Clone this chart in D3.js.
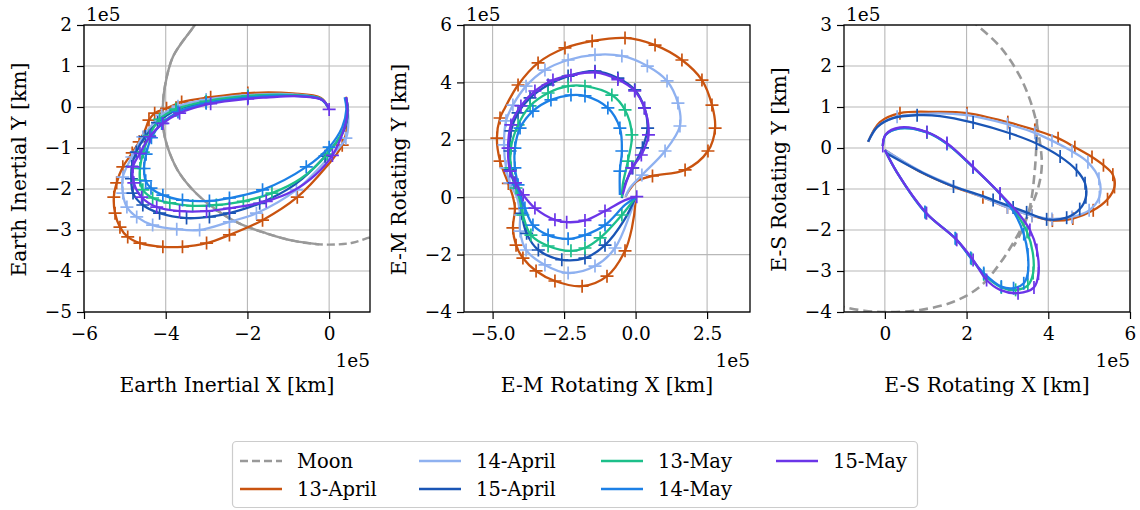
<!DOCTYPE html>
<html><head><meta charset="utf-8">
<script src="https://cdn.jsdelivr.net/npm/d3@7"></script>
<style>
body{margin:0;background:#fff}
svg{display:block}
svg text{font-family:"DejaVu Serif","Liberation Serif",serif !important;fill:#000}
</style>
</head><body>
<svg id="c" width="1140" height="510"></svg>
<script>
// ---------- data (units of 1e5 km); third value = 1 where a daily marker is drawn ----------
const seriesNames = ["13-April","14-April","15-April","13-May","14-May","15-May"];
const seriesColors = ["#c9530f","#8fb1f0","#1a55b5","#1cbf8a","#1c80e6","#6b35e8"];

// Earth Inertial frame
const moonEI = [[-3.05,2.4],[-3.29,2.0],[-3.82,1.23],[-4.02,0.5],[-4.07,0.01],[-4.04,-0.64],[-3.9,-1.13],[-3.66,-1.62],[-3.25,-2.11],[-2.76,-2.51],[-2.2,-2.84],[-1.54,-3.08],[-0.89,-3.26],[-0.24,-3.35],[0.24,-3.35],[0.57,-3.31],[0.93,-3.2],[1.2,-3.1]];
const moonEIOverlapEndX = 0.1;
const ei_13Apr = [[0.0,-0.05,0],[-0.2,0.22,0],[-0.89,0.33,0],[-1.99,0.34,1],[-2.9,0.24,1],[-3.61,0.12,1],[-3.98,-0.03,1],[-4.27,-0.15,1],[-4.41,-0.32,1],[-4.5,-0.55,0],[-4.65,-0.85,1],[-4.82,-1.12,1],[-5.05,-1.46,1],[-5.2,-1.85,1],[-5.27,-2.2,1],[-5.24,-2.59,1],[-5.12,-2.93,1],[-4.93,-3.17,1],[-4.63,-3.32,1],[-4.07,-3.41,1],[-3.59,-3.41,1],[-3.0,-3.32,1],[-2.44,-3.12,1],[-1.63,-2.76,1],[-0.78,-2.2,1],[-0.07,-1.46,0],[0.32,-0.93,1],[0.45,-0.4,0],[0.41,0.25,0]];
const ei_14Apr = [[0.0,-0.05,0],[-0.2,0.2,0],[-0.89,0.31,0],[-1.99,0.29,1],[-3.01,0.18,1],[-3.7,0.02,1],[-4.1,-0.2,1],[-4.56,-0.73,1],[-4.83,-1.22,1],[-5.05,-1.71,1],[-5.05,-2.1,1],[-4.95,-2.44,1],[-4.71,-2.68,1],[-4.32,-2.88,1],[-3.73,-2.98,1],[-3.17,-3.0,1],[-2.44,-2.8,1],[-1.78,-2.59,1],[-0.8,-2.02,1],[-0.07,-1.3,0],[0.41,-0.76,1],[0.47,-0.3,0],[0.41,0.22,0]];
const ei_15Apr = [[0.0,-0.05,0],[-0.2,0.19,0],[-0.89,0.28,0],[-1.99,0.25,1],[-3.01,0.11,1],[-3.75,-0.08,1],[-4.2,-0.38,1],[-4.5,-0.72,1],[-4.72,-1.1,1],[-4.83,-1.45,1],[-4.84,-1.75,1],[-4.8,-2.1,1],[-4.56,-2.39,1],[-4.15,-2.59,1],[-3.49,-2.71,1],[-2.93,-2.68,1],[-2.44,-2.59,1],[-1.7,-2.35,1],[-0.85,-1.9,0],[-0.1,-1.2,1],[0.35,-0.6,0],[0.46,-0.1,0],[0.41,0.23,0]];
const ei_13May = [[0.0,-0.05,0],[-0.2,0.2,0],[-0.89,0.29,0],[-1.99,0.27,1],[-3.01,0.14,1],[-3.75,-0.05,1],[-4.15,-0.3,1],[-4.4,-0.7,1],[-4.55,-1.1,1],[-4.63,-1.5,1],[-4.63,-1.78,1],[-4.56,-2.02,1],[-4.32,-2.22,1],[-3.9,-2.34,1],[-3.34,-2.41,1],[-2.76,-2.39,1],[-2.1,-2.3,1],[-1.4,-2.1,1],[-0.7,-1.75,0],[-0.05,-1.15,1],[0.35,-0.55,0],[0.46,-0.1,0],[0.41,0.23,0]];
const ei_14May = [[0.0,-0.05,0],[-0.2,0.19,0],[-0.89,0.27,0],[-1.99,0.23,1],[-3.01,0.09,1],[-3.7,-0.12,1],[-4.1,-0.4,1],[-4.35,-0.75,1],[-4.48,-1.15,1],[-4.53,-1.5,1],[-4.49,-1.8,1],[-4.36,-1.98,1],[-4.07,-2.15,1],[-3.59,-2.27,1],[-2.93,-2.29,1],[-2.44,-2.22,1],[-1.63,-2.02,1],[-0.56,-1.46,1],[0.0,-0.98,1],[0.32,-0.49,0],[0.42,-0.07,0],[0.38,0.24,0]];
const ei_15May = [[0.0,-0.06,1],[-0.16,0.17,0],[-0.73,0.26,0],[-1.54,0.23,0],[-1.99,0.2,1],[-2.9,0.08,1],[-3.66,-0.15,1],[-4.07,-0.4,1],[-4.39,-0.72,1],[-4.63,-1.13,1],[-4.8,-1.46,1],[-4.78,-1.85,1],[-4.59,-2.2,1],[-4.22,-2.44,1],[-3.66,-2.54,1],[-3.0,-2.54,1],[-2.44,-2.47,1],[-1.54,-2.3,1],[-0.89,-2.05,0],[-0.33,-1.65,0],[0.08,-1.18,1],[0.33,-0.64,0],[0.45,-0.15,0],[0.42,0.24,0]];

// Earth-Moon rotating frame
const em_13Apr = [[0.0,0.0,0],[0.0,-0.13,0],[-0.13,-1.07,0],[-0.37,-1.87,1],[-1.0,-2.75,1],[-1.87,-3.1,1],[-2.82,-2.92,1],[-3.48,-2.57,1],[-3.94,-2.12,1],[-4.18,-1.67,1],[-4.29,-1.07,1],[-4.22,-0.4,1],[-4.3,0.05,0],[-4.45,0.48,1],[-4.74,1.26,1],[-4.85,2.06,1],[-4.74,2.76,1],[-4.57,3.11,0],[-4.11,3.91,1],[-3.41,4.68,1],[-2.47,5.2,1],[-1.52,5.44,1],[-0.37,5.55,1],[0.68,5.3,1],[1.62,4.78,1],[2.32,4.08,1],[2.67,3.21,1],[2.78,2.41,1],[2.53,1.61,1],[1.73,0.95,1],[0.59,0.74,1],[0.07,0.57,0],[-0.24,0.22,0],[-0.35,0.02,0]];
const em_14Apr = [[0.0,0.0,0],[-0.2,-0.6,0],[-0.72,-1.77,1],[-1.42,-2.4,1],[-2.36,-2.64,1],[-3.17,-2.36,1],[-3.83,-1.84,1],[-4.04,-1.18,1],[-4.04,-0.62,1],[-4.15,0.0,0],[-4.4,0.5,1],[-4.53,1.02,1],[-4.6,1.82,1],[-4.53,2.66,1],[-4.29,3.21,1],[-3.83,3.87,1],[-3.17,4.43,1],[-2.36,4.78,1],[-1.42,4.96,1],[-0.48,4.92,1],[0.41,4.57,1],[1.1,4.05,1],[1.48,3.28,1],[1.55,2.48,1],[1.03,1.61,1],[0.22,0.77,1],[-0.2,0.32,0],[-0.35,0.02,0]];
const em_15Apr = [[0.0,0.0,0],[-0.4,-0.8,0],[-1.07,-1.67,1],[-1.77,-2.12,1],[-2.58,-2.18,1],[-3.4,-1.84,1],[-3.81,-1.26,1],[-3.98,-0.56,1],[-4.0,0.05,0],[-4.25,0.5,1],[-4.38,0.95,1],[-4.39,1.61,1],[-4.36,2.31,1],[-4.11,2.94,1],[-3.69,3.46,1],[-3.06,3.91,1],[-2.36,4.22,1],[-1.42,4.39,1],[-0.62,4.15,1],[-0.03,3.74,1],[0.31,3.11,1],[0.42,2.41,1],[0.24,1.72,1],[-0.1,1.02,1],[-0.38,0.43,0],[-0.48,-0.03,0]];
const em_13May = [[0.0,0.0,0],[-0.48,-0.62,1],[-1.24,-1.42,1],[-1.77,-1.77,1],[-2.26,-1.87,1],[-3.06,-1.7,1],[-3.66,-1.32,1],[-3.94,-0.62,1],[-4.05,-0.1,0],[-4.18,0.32,1],[-4.36,1.02,1],[-4.36,1.71,1],[-4.11,2.52,1],[-3.69,3.18,1],[-3.06,3.63,1],[-2.36,3.87,1],[-1.77,3.87,1],[-0.83,3.56,1],[-0.37,3.04,1],[-0.13,2.17,1],[-0.27,1.26,1],[-0.45,0.43,0],[-0.48,0.0,0]];
const em_14May = [[0.0,0.0,0],[-0.37,-0.27,0],[-1.07,-0.97,1],[-1.77,-1.32,1],[-2.36,-1.45,1],[-3.06,-1.32,1],[-3.59,-0.97,1],[-3.87,-0.38,1],[-4.05,0.1,0],[-4.11,0.43,1],[-4.22,1.02,1],[-4.22,1.71,1],[-4.04,2.41,1],[-3.59,3.0,1],[-2.96,3.39,1],[-2.26,3.56,1],[-1.77,3.53,1],[-0.97,3.11,1],[-0.55,2.41,1],[-0.48,1.61,1],[-0.55,0.91,1],[-0.55,0.08,0]];
const em_15May = [[0.04,0.02,1],[-0.37,-0.1,0],[-1.07,-0.48,1],[-1.77,-0.81,1],[-2.41,-0.87,1],[-2.82,-0.79,1],[-3.52,-0.38,1],[-3.93,0.08,1],[-4.2,0.5,1],[-4.39,0.91,1],[-4.46,1.71,1],[-4.36,2.52,1],[-4.01,3.18,1],[-3.52,3.7,1],[-2.89,4.08,1],[-2.26,4.25,1],[-1.42,4.35,1],[-0.62,4.1,1],[-0.03,3.7,1],[0.31,3.1,1],[0.45,2.17,1],[0.2,1.47,1],[-0.13,1.02,1],[-0.31,0.57,0],[-0.45,0.1,0]];

// Earth-Sun rotating frame
const moonES = [[-1.2,-3.83],[-1.0,-3.88],[-0.5,-3.97],[0.04,-4.0],[0.86,-3.95],[1.68,-3.75],[2.33,-3.38],[2.82,-2.81],[3.23,-2.16],[3.55,-1.51],[3.76,-0.94],[3.84,-0.46],[3.8,0.11],[3.63,0.93],[3.31,1.74],[2.82,2.47],[2.25,3.0],[2.0,3.2]];
const moonES2 = [[3.15,-2.4],[3.36,-2.0],[3.55,-1.44],[3.67,-0.54],[3.72,0.39],[3.72,0.75]];
const es_13Apr = [[0.0,-0.05,0],[0.9,-0.6,0],[1.7,-0.95,0],[2.4,-1.2,1],[3.0,-1.45,1],[3.6,-1.65,1],[4.1,-1.77,1],[4.6,-1.72,1],[5.1,-1.52,1],[5.45,-1.25,1],[5.62,-0.95,1],[5.58,-0.65,1],[5.35,-0.42,1],[5.07,-0.22,1],[4.65,0.02,1],[4.24,0.24,1],[3.67,0.44,1],[3.01,0.63,1],[2.01,0.85,1],[1.28,0.88,0],[0.37,0.85,1],[-0.12,0.63,0],[-0.41,0.15,0]];
const es_14Apr = [[0.0,-0.05,0],[0.9,-0.58,0],[1.7,-0.93,0],[2.4,-1.2,0],[3.0,-1.45,1],[3.6,-1.65,1],[4.09,-1.73,1],[4.58,-1.68,1],[5.0,-1.52,1],[5.25,-1.2,1],[5.24,-0.75,1],[4.97,-0.35,1],[4.58,-0.08,1],[4.09,0.18,1],[3.67,0.37,1],[3.0,0.58,1],[2.0,0.8,1],[1.1,0.84,0],[0.3,0.76,1],[-0.15,0.55,0],[-0.41,0.15,0]];
const es_15Apr = [[0.04,-0.13,0],[0.93,-0.61,0],[1.68,-0.94,1],[2.33,-1.15,0],[2.65,-1.27,1],[3.14,-1.45,1],[3.47,-1.57,1],[3.96,-1.74,1],[4.45,-1.7,1],[4.77,-1.49,1],[4.92,-1.2,1],[4.9,-0.86,1],[4.69,-0.54,1],[4.29,-0.21,1],[3.71,0.11,1],[3.06,0.36,1],[2.16,0.62,1],[1.35,0.78,0],[0.79,0.8,1],[0.2,0.73,0],[-0.19,0.51,0],[-0.41,0.15,0]];
const es_13May = [[-0.05,0.05,0],[0.02,0.32,0],[0.37,0.48,0],[1.03,0.38,1],[1.52,0.1,0],[2.16,-0.47,1],[2.82,-1.12,0],[3.2,-1.57,0],[3.48,-2.05,1],[3.62,-2.55,0],[3.63,-3.05,1],[3.5,-3.35,1],[3.2,-3.46,1],[2.85,-3.4,1],[2.42,-3.08,1],[2.12,-2.7,1],[1.74,-2.22,1],[1.0,-1.58,1],[0.3,-0.6,0],[0.0,-0.05,0]];
const es_14May = [[-0.05,0.05,0],[0.02,0.32,0],[0.37,0.48,0],[1.03,0.38,0],[1.52,0.1,1],[2.16,-0.47,1],[2.82,-1.12,1],[3.18,-1.6,0],[3.4,-2.1,1],[3.5,-2.6,1],[3.5,-3.05,1],[3.4,-3.3,1],[3.15,-3.42,1],[2.85,-3.38,1],[2.42,-3.05,1],[2.1,-2.68,1],[1.72,-2.2,1],[0.98,-1.56,1],[0.3,-0.6,0],[0.0,-0.05,0]];
const es_15May = [[-0.05,0.05,1],[0.02,0.33,0],[0.37,0.5,0],[1.03,0.39,1],[1.52,0.12,1],[2.16,-0.46,1],[2.82,-1.11,1],[3.23,-1.55,0],[3.55,-2.0,1],[3.72,-2.49,1],[3.76,-3.06,1],[3.65,-3.4,1],[3.26,-3.54,1],[2.82,-3.46,0],[2.49,-3.22,1],[2.16,-2.73,1],[1.76,-2.24,1],[1.02,-1.59,1],[0.3,-0.6,0],[0.0,-0.05,0]];

// axes tick values
const eiXTicks = [-6,-4,-2,0], eiYTicks = [2,1,0,-1,-2,-3,-4,-5];
const emXTicks = [-5,-2.5,0,2.5], emYTicks = [6,4,2,0,-2,-4];
const esXTicks = [0,2,4,6], esYTicks = [3,2,1,0,-1,-2,-3,-4];

// ---------- layout ----------
const FONT = '"DejaVu Serif","Liberation Serif",serif';
const svg = d3.select('#c');
const TOP = 25, BOTTOM = 312, W = 286;
const panels = [
  {left:84, xd:[-6,1], yd:[-5,2], xt:eiXTicks, yt:eiYTicks, xf:d3.format('d'), yf:d3.format('d'),
   xl:'Earth Inertial X [km]', yl:'Earth Inertial Y [km]', marker:'M-6.5,0H6.5M0,-6.5V6.5',
   series:[ei_13Apr,ei_14Apr,ei_15Apr,ei_13May,ei_14May,ei_15May], moon:'EI'},
  {left:464, xd:[-6,4], yd:[-4,6], xt:emXTicks, yt:emYTicks, xf:d3.format('.1f'), yf:d3.format('d'),
   xl:'E-M Rotating X [km]', yl:'E-M Rotating Y [km]', marker:'M-6.5,0H6.5M0,-6.5V6.5',
   series:[em_13Apr,em_14Apr,em_15Apr,em_13May,em_14May,em_15May], moon:null},
  {left:844, xd:[-1,6], yd:[-4,3], xt:esXTicks, yt:esYTicks, xf:d3.format('d'), yf:d3.format('d'),
   xl:'E-S Rotating X [km]', yl:'E-S Rotating Y [km]', marker:'M0,-6.5V6.5',
   series:[es_13Apr,es_14Apr,es_15Apr,es_13May,es_14May,es_15May], moon:'ES'}
];
const moonColor = '#999999';
const curve = d3.curveCatmullRom.alpha(0.5);

panels.forEach((p,pi) => {
  const x = d3.scaleLinear().domain(p.xd).range([p.left, p.left+W]);
  const y = d3.scaleLinear().domain(p.yd).range([BOTTOM, TOP]);
  const g = svg.append('g').attr('font-family',FONT);
  const clipId = 'clip'+pi;
  g.append('clipPath').attr('id',clipId).append('rect')
    .attr('x',p.left).attr('y',TOP).attr('width',W).attr('height',BOTTOM-TOP);
  // grid
  g.append('g').selectAll('line').data(p.xt).join('line')
    .attr('x1',d=>x(d)).attr('x2',d=>x(d)).attr('y1',TOP).attr('y2',BOTTOM)
    .attr('stroke','#b8b8b8').attr('stroke-width',1.1);
  g.append('g').selectAll('line').data(p.yt).join('line')
    .attr('y1',d=>y(d)).attr('y2',d=>y(d)).attr('x1',p.left).attr('x2',p.left+W)
    .attr('stroke','#b8b8b8').attr('stroke-width',1.1);

  const plot = g.append('g').attr('clip-path',`url(#${clipId})`);
  const line = d3.line().x(d=>x(d[0])).y(d=>y(d[1])).curve(curve);
  if (p.moon==='EI') {
    plot.append('path').attr('d',line(moonEI)).attr('fill','none').attr('stroke',moonColor)
      .attr('stroke-width',2.4).attr('stroke-dasharray','8,4');
    const ov = moonEI.filter(d=>d[0]<=moonEIOverlapEndX || d[1]>-3.0);
    plot.append('path').attr('d',line(ov)).attr('fill','none').attr('stroke',moonColor)
      .attr('stroke-width',2.4);
  }
  if (p.moon==='ES') {
    plot.append('path').attr('d',line(moonES)).attr('fill','none').attr('stroke',moonColor)
      .attr('stroke-width',2.6).attr('stroke-dasharray','9,5');
    plot.append('path').attr('d',line(moonES2)).attr('fill','none').attr('stroke',moonColor)
      .attr('stroke-width',2.6).attr('stroke-dasharray','9,5').attr('stroke-dashoffset',4);
  }
  p.series.forEach((s,si) => {
    plot.append('path').attr('d',line(s)).attr('fill','none')
      .attr('stroke',seriesColors[si]).attr('stroke-width',2.3);
    plot.append('g').selectAll('path').data(s.filter(d=>d[2]===1)).join('path')
      .attr('d',p.marker).attr('transform',d=>`translate(${x(d[0])},${y(d[1])})`)
      .attr('stroke',seriesColors[si]).attr('stroke-width',1.7).attr('fill','none');
  });

  // frame
  g.append('rect').attr('x',p.left).attr('y',TOP).attr('width',W).attr('height',BOTTOM-TOP)
    .attr('fill','none').attr('stroke','#000').attr('stroke-width',1.3);
  // ticks
  const xa = g.append('g').attr('transform',`translate(0,${BOTTOM})`)
    .call(d3.axisBottom(x).tickValues(p.xt).tickFormat(p.xf).tickSize(7).tickPadding(8));
  const ya = g.append('g').attr('transform',`translate(${p.left},0)`)
    .call(d3.axisLeft(y).tickValues(p.yt).tickFormat(p.yf).tickSize(7).tickPadding(5));
  [xa,ya].forEach(a=>{
    a.attr('font-family',FONT).attr('font-size',18.5);
    a.select('.domain').remove();
    a.selectAll('line').attr('stroke','#000').attr('stroke-width',1.2);
    a.selectAll('text').attr('fill','#000');
  });
  // offset texts
  g.append('text').attr('x',p.left+2).attr('y',21).attr('font-size',18.5).text('1e5');
  g.append('text').attr('x',p.left+W).attr('y',367).attr('text-anchor','end').attr('font-size',18.5).text('1e5');
  // axis labels
  g.append('text').attr('x',p.left+W/2).attr('y',392).attr('text-anchor','middle')
    .attr('font-size',20.3).text(p.xl);
  g.append('text').attr('transform',`translate(${p.left-58},${(TOP+BOTTOM)/2+1}) rotate(-90)`)
    .attr('text-anchor','middle').attr('font-size',20.3).text(p.yl);
});

// ---------- legend ----------
const leg = svg.append('g').attr('font-family',FONT);
leg.append('rect').attr('x',232.5).attr('y',441.5).attr('width',685).attr('height',66).attr('rx',4)
  .attr('fill','#fff').attr('stroke','#cccccc').attr('stroke-width',1.2);
const legItems = [{name:'Moon',color:moonColor,dash:'8,4'}].concat(
  seriesNames.map((n,i)=>({name:n,color:seriesColors[i],dash:null})));
const colX = [240,419,601,776], rowY = [461,489];
legItems.forEach((it,i)=>{
  const c = Math.floor(i/2), r = i%2;
  const lx = colX[c], ly = rowY[r];
  leg.append('line').attr('x1',lx).attr('x2',lx+42).attr('y1',ly).attr('y2',ly)
    .attr('stroke',it.color).attr('stroke-width',2.4).attr('stroke-dasharray',it.dash);
  leg.append('text').attr('x',lx+57).attr('y',ly).attr('dy','0.36em').attr('font-size',19.5).text(it.name);
});
</script>
</body></html>
